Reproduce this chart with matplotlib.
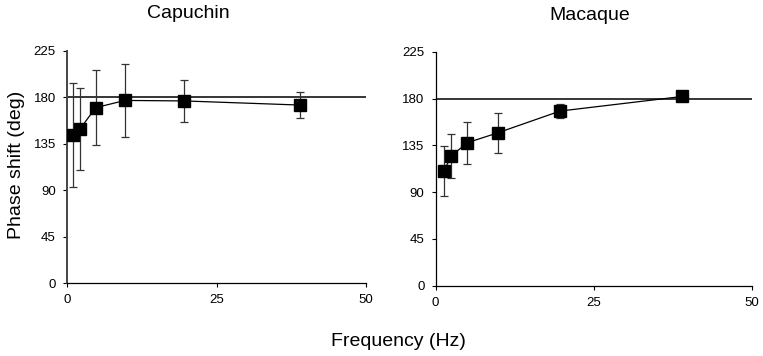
import matplotlib
matplotlib.use("Agg")
import matplotlib.pyplot as plt

plt.rcParams['font.family'] = ['Liberation Sans', 'DejaVu Sans']

# data
cap_freq = [1.0, 2.2, 4.8, 9.7, 19.6, 39]
cap_phase = [143.5, 149.5, 170, 177, 176.5, 172.5]
cap_err = [50, 39.5, 36.5, 35.5, 20, 13]

mac_freq = [1.3, 2.5, 5.0, 9.8, 19.7, 39]
mac_phase = [110.5, 125, 137.5, 147, 168, 182]
mac_err = [24, 21, 20, 19, 6.5, 3]

panels = ["Capuchin", "Macaque"]
x_ticks = [0, 25, 50]
y_ticks = [0, 45, 90, 135, 180, 225]

fig = plt.figure(figsize=(7.63, 3.56), dpi=100)
ax1 = fig.add_axes([0.0878, 0.205, 0.392, 0.652])
ax2 = fig.add_axes([0.571, 0.1975, 0.414, 0.657])

for ax, fx, ph, er in [(ax1, cap_freq, cap_phase, cap_err),
                       (ax2, mac_freq, mac_phase, mac_err)]:
    ax.axhline(180, color='black', lw=1.1, zorder=1)
    ax.errorbar(fx, ph, yerr=er, fmt='s-', color='black', ms=8,
                lw=0.9, ecolor='#333333', elinewidth=0.9, capsize=3.2,
                capthick=0.9, zorder=3)
    ax.set_xlim(0, 50)
    ax.set_ylim(0, 225)
    ax.set_xticks(x_ticks)
    ax.set_yticks(y_ticks)
    ax.spines['top'].set_visible(False)
    ax.spines['right'].set_visible(False)
    ax.spines['left'].set_linewidth(0.9)
    ax.spines['bottom'].set_linewidth(0.9)
    ax.tick_params(labelsize=9.5, length=3, width=0.8, pad=5)

ax1.spines['left'].set_linewidth(1.4)
ax1.spines['left'].set_color('#444444')

fig.text(188 / 763, 1 - 14 / 356, panels[0], ha='center', va='center', fontsize=14)
fig.text(590 / 763, 1 - 15 / 356, panels[1], ha='center', va='center', fontsize=14)
fig.text(398 / 763, 1 - 342 / 356, "Frequency (Hz)", ha='center', va='center', fontsize=14)
fig.text(17 / 763, 1 - 165 / 356, "Phase shift (deg)", ha='center', va='center',
         rotation=90, fontsize=14)

fig.savefig("out.png", dpi=100)
